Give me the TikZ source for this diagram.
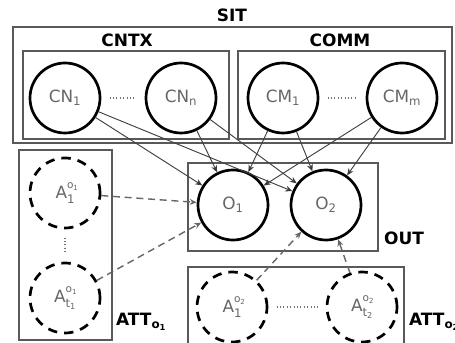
\documentclass[tikz,border=0pt]{standalone}
\usepackage{fontspec}
\setmainfont{DejaVu Sans}
\usetikzlibrary{arrows.meta}
\newcommand{\attrlab}[2]{A\rlap{\raisebox{1.05ex}{\small #1}}\raisebox{-0.55ex}{\normalsize #2}}
\begin{document}
\begin{tikzpicture}[x=0.03cm,y=-0.03cm,
    var/.style={circle,draw=black,line width=2.3pt,minimum size=2.1cm,inner sep=0pt,text=black!60,font=\Large},
    attvar/.style={var,dash pattern=on 8pt off 6pt},
    grp/.style={draw=black!65,line width=1.3pt},
    ttl/.style={font=\bfseries\fontsize{14.5}{16}\selectfont},
    dep/.style={-{Stealth[length=6pt,width=5pt]},draw=black!75,line width=0.8pt},
    attdep/.style={dep,dash pattern=on 6pt off 4pt,draw=black!60,line width=1.2pt},
    dots/.style={draw=black!55,dotted,line width=0.9pt,shorten >=7pt,shorten <=7pt}]
       \useasboundingbox (0,0) rectangle (455,343);
       % situation
       \draw[grp] (13,27) rectangle (452,143);
       \node[ttl] (sit) at (232,15) {SIT};
       \draw[grp] (23,51) rectangle (229,139);
       \node[ttl] (cntx) at (127,40) {CNTX};
       \draw[grp] (238,51) rectangle (445,139);
       \node[ttl] (comm) at (340,40) {COMM};
       \node[var] (cn1) at (65,98) {CN\textsubscript{1}};
       \node[var] (cnn) at (181,98) {CN\textsubscript{n}};
       \node[var] (cm1) at (283,98) {CM\textsubscript{1}};
       \node[var] (cmm) at (402,98) {CM\textsubscript{m}};
       \path[dots] (cn1) edge (cnn);
       \path[dots] (cm1) edge (cmm);
       % outputs
       \draw[grp] (188,163) rectangle (378,251);
       \node[ttl,anchor=west] (out) at (380,238) {OUT};
       \node[var] (o1) at (233,205) {O\textsubscript{1}};
       \node[var] (o2) at (326,205) {O\textsubscript{2}};
       % attributes of o1
       \draw[grp] (19,150) rectangle (112,340);
       \node[ttl,anchor=west] (atto1) at (112,322) {ATT\textsubscript{o\textsubscript{1}}};
       \node[attvar] (a11) at (65,193) {\attrlab{o\textsubscript{1}}{1}};
       \node[attvar] (a1t) at (65,298) {\attrlab{o\textsubscript{1}}{t\textsubscript{1}}};
       \path[dots] (a11) edge (a1t);
       % attributes of o2
       \draw[grp] (188,267) rectangle (404,350);
       \node[ttl,anchor=west] (atto2) at (405,322) {ATT\textsubscript{o\textsubscript{2}}};
       \node[attvar] (a21) at (232,307) {\attrlab{o\textsubscript{2}}{1}};
       \node[attvar] (a2t) at (362,307) {\attrlab{o\textsubscript{2}}{t\textsubscript{2}}};
       \path[dots] (a21) edge (a2t);
       % dependencies
       \path[dep] (cn1) edge (o1) (cn1) edge (o2);
       \path[dep] (cnn) edge (o1) (cnn) edge (o2);
       \path[dep] (cm1) edge (o1) (cm1) edge (o2);
       \path[dep] (cmm) edge (o1) (cmm) edge (o2);
       \path[attdep] (a11) edge (o1) (a1t) edge (o1);
       \path[attdep] (a21) edge (o2) (a2t) edge (o2);
     \end{tikzpicture}
\end{document}
